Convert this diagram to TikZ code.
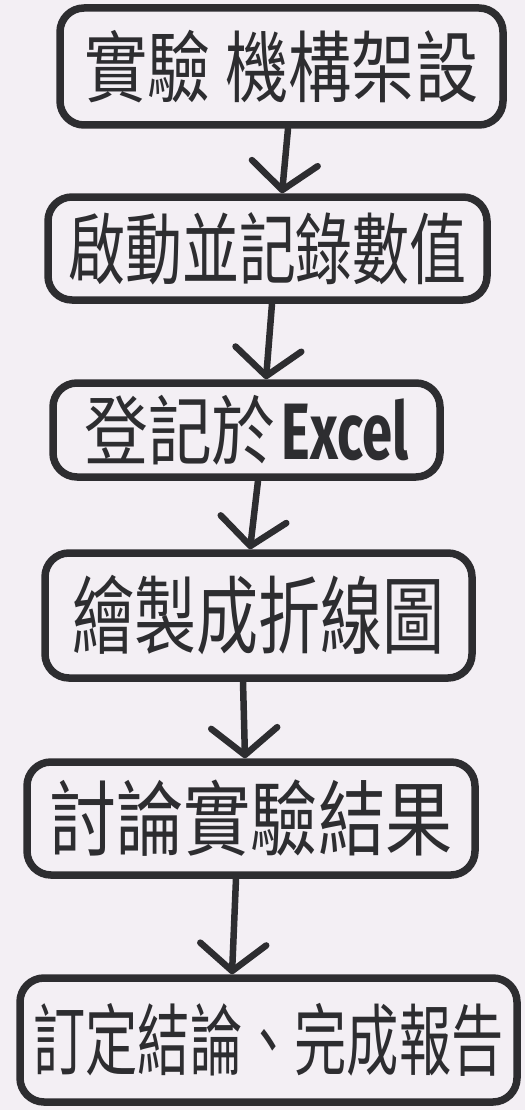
\documentclass[tikz,border=0pt]{standalone}
\usepackage{fontspec}
\usepackage{graphicx}
\setmainfont{Noto Sans CJK TC}
\newfontfamily\exfont{Fira Sans}
\usetikzlibrary{arrows.meta,calc}
\definecolor{paper}{RGB}{243,239,244}
\definecolor{ink}{RGB}{45,45,48}
\newcommand\hwtext[3]{\scalebox{#1}[1]{\fontsize{#2}{#2}\selectfont #3}}
\tikzset{
  box/.style={draw=ink, line width=7.5pt, rounded corners=24pt, inner sep=0pt, text=ink},
  flow/.style={draw=ink, line width=6.5pt, line cap=round,
    -{Straight Barb[length=27pt,width=66pt,line width=6.5pt,round]}}
}
\begin{document}
\begin{tikzpicture}[x=1pt,y=-1pt]
\fill[paper] (0,0) rectangle (525,1110);
\useasboundingbox (0,0) rectangle (525,1110);
\node[box, minimum width=443pt, minimum height=117pt] (b1) at (281.5,66.5)
  {\hwtext{0.81}{78pt}{實驗\hspace{18pt}機構架設}};
\node[box, minimum width=439pt, minimum height=103pt] (b2) at (267.5,248.5)
  {\hwtext{0.73}{78pt}{啟動並記錄數值}};
\node[box, minimum width=387pt, minimum height=94pt] (b3) at (246.5,430)
  {\hwtext{0.84}{76pt}{登記於}\hspace{6pt}\hwtext{0.68}{80pt}{\exfont\bfseries Excel}\hspace{20pt}};
\node[box, minimum width=427pt, minimum height=125pt] (b4) at (258.5,615.5)
  {\hwtext{0.73}{85pt}{繪製成折線圖}};
\node[box, minimum width=448pt, minimum height=113pt] (b5) at (251,818.5)
  {\hwtext{0.82}{82pt}{討論實驗結果}};
\node[box, minimum width=497pt, minimum height=124pt] (b6) at (268.5,1040)
  {\hwtext{0.67}{78pt}{訂定結論、完成報告}};
\draw[flow] ([xshift=6.5pt]b1.south) -- ([xshift=14.5pt]b2.north);
\draw[flow] ([xshift=4.5pt]b2.south) -- ([xshift=19.5pt]b3.north);
\draw[flow] ([xshift=11.5pt]b3.south) -- ([xshift=-8.5pt]b4.north);
\draw[flow] ([xshift=-15.5pt]b4.south) -- ([xshift=-6pt]b5.north);
\draw[flow] ([xshift=-15pt]b5.south) -- ([xshift=-36.5pt]b6.north);
\end{tikzpicture}
\end{document}
